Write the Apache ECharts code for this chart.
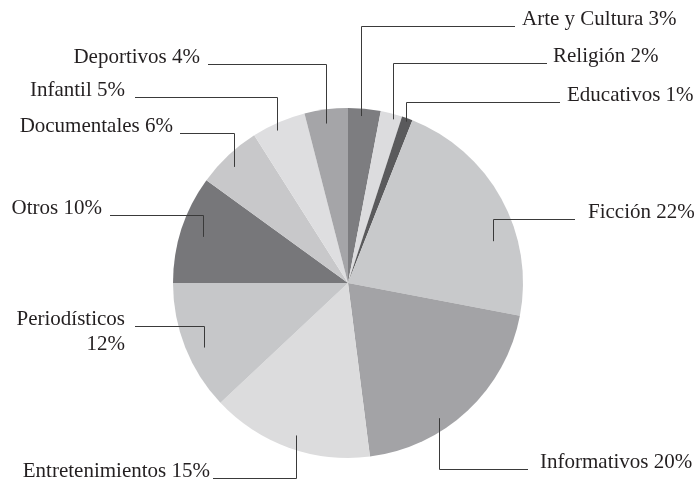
<!DOCTYPE html>
<html><head><meta charset="utf-8">
<script src="https://cdn.jsdelivr.net/npm/echarts@6/dist/echarts.min.js"></script>
<style>html,body{margin:0;padding:0;background:#fff}#c{width:695px;height:481px}</style>
</head><body><div id="c"></div>
<script>
// ---- data ----
const categories = ['Arte y Cultura','Religión','Educativos','Ficción','Informativos','Entretenimientos','Periodísticos','Otros','Documentales','Infantil','Deportivos'];
const shares = [3,2,1,22,20,15,12,10,6,5,4];
const labelSeparator = [' ',' ',' ',' ',' ',' ','\n',' ',' ',' ',' '];

// ---- style / layout ----
const colors = ['#7d7d80','#dcdcde','#5a5a5c','#c8c9cb','#a3a3a6','#dcdcdd','#c6c7c9','#77777a','#c8c8ca','#dedee0','#a5a5a8'];
const CENTER = [348, 283], RADIUS = 175, LINE_H = 25;
const labelX = [522,553,567,588,540,210,125,102,173,125,200];
const lineOuterX = [515,547,560,575,528,213,135,110,180,135,208];
const lineY = [26,63,102,219,469,478,326,215,133,97,64];
const anchorT = [0.41,0.64,0.5,0.66,0.63,0.48,0.44,0.49,0.44,0.42,0.45];
const anchorR = [0.957,0.97,0.98,0.86,0.93,0.92,0.9,0.87,0.93,0.96,0.92];

const total = shares.reduce((a,b)=>a+b,0);
const chart = echarts.init(document.getElementById('c'), null, {renderer:'canvas'});
const common = {
  type: 'pie',
  center: CENTER,
  radius: RADIUS,
  startAngle: 90,
  clockwise: true,
  avoidLabelOverlap: false,
  silent: true
};
chart.setOption({
  backgroundColor: '#ffffff',
  animation: false,
  series: [
    Object.assign({}, common, {
      z: 1,
      data: categories.map((c,i)=>({name:c, value:shares[i], itemStyle:{color:colors[i]}})),
      itemStyle: {borderWidth: 0},
      label: {show: false},
      labelLine: {show: false}
    }),
    Object.assign({}, common, {
      z: 3,
      data: categories.map((c,i)=>({name:c, value:shares[i]})),
      itemStyle: {color: 'rgba(0,0,0,0)', borderWidth: 0},
      label: {
        show: true,
        position: 'outside',
        fontFamily: 'Liberation Serif',
        fontSize: 21,
        lineHeight: LINE_H,
        color: '#231f20',
        formatter: p => p.name + labelSeparator[p.dataIndex] + p.value + '%'
      },
      labelLine: {show: true, showAbove: true, smooth: false, lineStyle: {color: '#3a3a3a', width: 1}},
      labelLayout: function (params) {
        const i = params.dataIndex;
        let before = 0;
        for (let k = 0; k < i; k++) before += shares[k];
        const start = before / total * 360, span = shares[i] / total * 360;
        const ang = (start + anchorT[i] * span) * Math.PI / 180;
        const r = anchorR[i] * RADIUS;
        const ax = Math.round(CENTER[0] + r * Math.sin(ang)) + 0.5;
        const ay = CENTER[1] - r * Math.cos(ang);
        const right = labelX[i] > CENTER[0];
        const nLines = labelSeparator[i] === '\n' ? 2 : 1;
        const ly = lineY[i] + 0.5;
        return {
          x: labelX[i],
          y: lineY[i] - 7 + (nLines - 1) * LINE_H / 2,
          align: right ? 'left' : 'right',
          verticalAlign: 'middle',
          hideOverlap: false,
          labelLinePoints: [[lineOuterX[i], ly], [ax, ly], [ax, ay]]
        };
      }
    })
  ]
});
</script>
</body></html>
